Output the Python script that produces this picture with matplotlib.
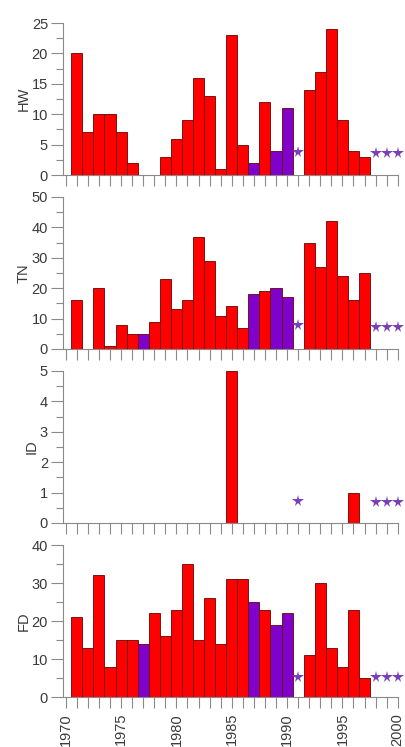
import numpy as np
import matplotlib
matplotlib.use("Agg")
import matplotlib.pyplot as plt
from matplotlib.ticker import MultipleLocator

plt.rcParams['font.family'] = ['Liberation Sans', 'DejaVu Sans']

RED = "#ff0000"
PURPLE = "#8000cc"
STAR = "#7a3fb8"
GREY = "#8a8a8a"
TEXT = "#3a3a3a"

years = list(range(1971, 1998))
missing_year = 1991
star_years = [1991, 1998, 1999, 2000]

# values per year 1971..1997 (1991 has no data, shown as a star)
hw = [20, 7, 10, 10, 7, 2, 0, 0, 3, 6, 9, 16, 13, 1, 23, 5, 2, 12, 4, 11,
      0, 14, 17, 24, 9, 4, 3]
tn = [16, 0, 20, 1, 8, 5, 5, 9, 23, 13, 16, 37, 29, 11, 14, 7, 18, 19, 20, 17,
      0, 35, 27, 42, 24, 16, 25]
id_ = [0, 0, 0, 0, 0, 0, 0, 0, 0, 0, 0, 0, 0, 0, 5, 0, 0, 0, 0, 0,
       0, 0, 0, 0, 0, 1, 0]
fd = [21, 13, 32, 8, 15, 15, 14, 22, 16, 23, 35, 15, 26, 14, 31, 31, 25, 23, 19, 22,
      0, 11, 30, 13, 8, 23, 5]

# years drawn in purple
purple_years = {
    "HW": [1987, 1989, 1990],
    "TN": [1977, 1987, 1989, 1990],
    "ID": [],
    "FD": [1977, 1987, 1989, 1990],
}

# height of the star markers in each panel
star_level = {"HW": [3.8, 3.6, 3.6, 3.6], "TN": [7.9, 7.4, 7.4, 7.4],
              "ID": [0.73, 0.7, 0.7, 0.7], "FD": [5.3, 5.3, 5.3, 5.3]}

panels = [("HW", hw, 25, 5), ("TN", tn, 50, 10), ("ID", id_, 5, 1), ("FD", fd, 40, 10)]
bottoms = [0.7657, 0.5328, 0.2999, 0.0669]

fig = plt.figure(figsize=(4.06, 7.47), dpi=100)

for (name, vals, ymax, step), bottom in zip(panels, bottoms):
    ax = fig.add_axes([0.156, bottom, 0.825, 0.2035])
    xs = [y for y, v in zip(years, vals) if v > 0 and y != missing_year]
    hs = [v for y, v in zip(years, vals) if v > 0 and y != missing_year]
    cols = [PURPLE if y in purple_years[name] else RED for y in xs]
    ax.bar(xs, hs, width=1.0, color=cols, edgecolor="#6a0000", linewidth=0.6, zorder=2)
    ax.plot(star_years, star_level[name], linestyle="none", marker="*",
            markersize=8.5, color=STAR, markeredgewidth=0, zorder=3, clip_on=False)

    ax.set_xlim(1969.78, 2000.05)
    ax.set_ylim(0, ymax)
    ax.yaxis.set_major_locator(MultipleLocator(step))
    ax.yaxis.set_minor_locator(MultipleLocator(step / 2))
    ax.xaxis.set_major_locator(MultipleLocator(5))
    ax.xaxis.set_minor_locator(MultipleLocator(1))

    for s in ["top", "right"]:
        ax.spines[s].set_visible(False)
    for s in ["left", "bottom"]:
        ax.spines[s].set_color(GREY)
        ax.spines[s].set_linewidth(0.8)
    ax.spines["bottom"].set_zorder(4)

    ax.tick_params(axis="y", which="major", length=9, width=0.8, color=GREY,
                   labelsize=10.5, labelcolor=TEXT, pad=2)
    ax.tick_params(axis="y", which="minor", length=5, width=0.8, color=GREY)
    ax.tick_params(axis="x", which="both", length=8, width=0.8, color=GREY,
                   labelsize=10.5, labelcolor=TEXT)
    ax.set_ylabel(name, fontsize=10.5, color=TEXT, labelpad=1)

    if name == "FD":
        ax.tick_params(axis="x", labelrotation=90)
    else:
        ax.tick_params(axis="x", labelbottom=False)

fig.savefig("out.png", dpi=100)
